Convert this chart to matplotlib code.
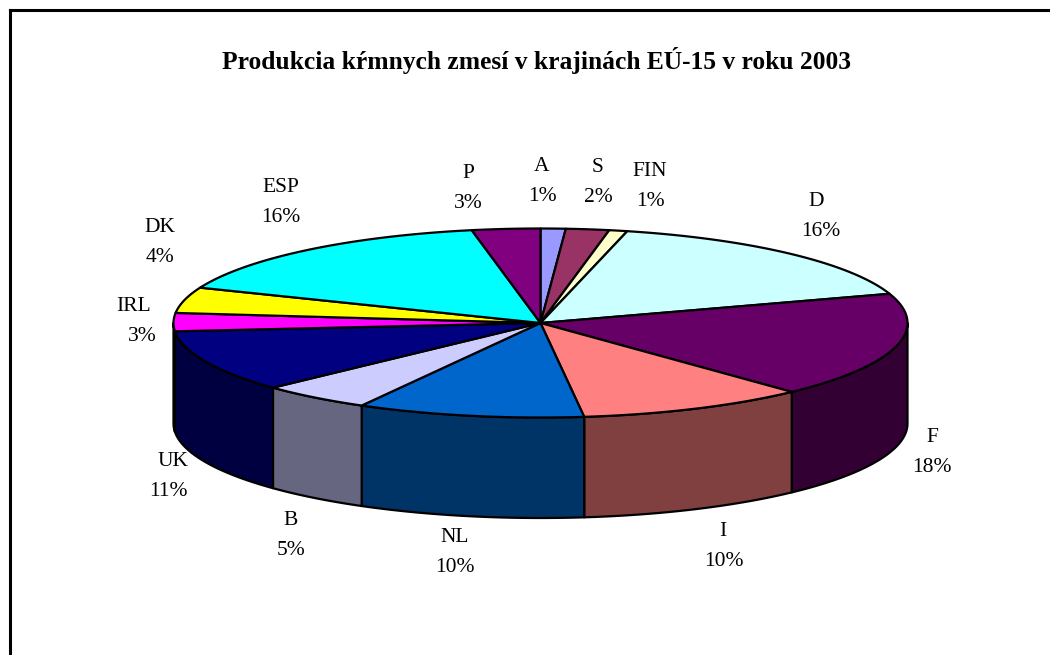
import numpy as np
import matplotlib
matplotlib.use("Agg")
import matplotlib.pyplot as plt
from matplotlib.patches import Polygon

title = "Produkcia kŕmnych zmesí v krajinách EÚ-15 v roku 2003"
labels = ["A", "S", "FIN", "D", "F", "I", "NL", "B", "UK", "IRL", "DK", "ESP", "P"]
values = [1.1, 1.9, 0.8, 16.2, 18.0, 10.1, 10.0, 4.9, 10.6, 3.1, 4.4, 15.9, 3.0]
pct_labels = ["1%", "2%", "1%", "16%", "18%", "10%", "10%", "5%", "11%", "3%", "4%", "16%", "3%"]
colors = ["#9999FF", "#993366", "#FFFFCC", "#CCFFFF", "#660066", "#FF8080", "#0066CC",
          "#CCCCFF", "#000080", "#FF00FF", "#FFFF00", "#00FFFF", "#800080"]
name_x = [542, 598, 650, 816, 932, 723, 455, 291, 173, 134, 160, 281, 468]
pct_x = [542, 598, 650, 821, 932, 724, 455, 291, 168, 142, 160, 281, 468]
label_y = [181.5, 182.5, 187, 216, 453, 547, 553, 535.5, 476.5, 321.5, 243, 202.5, 188.5]

W, H = 1050, 655
CX, CY, RX, RY, DEPTH = 540.5, 323.0, 367.0, 94.5, 100.5

fig = plt.figure(figsize=(W / 100, H / 100), dpi=100, facecolor="white")
ax = fig.add_axes([0, 0, 1, 1])
ax.set_xlim(0, W)
ax.set_ylim(H, 0)
ax.axis("off")

# frame: only top and left edges fall inside the picture
ax.plot([10, 10], [H + 5, 10], color="black", lw=2.2, solid_capstyle="projecting")
ax.plot([10, W + 5], [10, 10], color="black", lw=2.2, solid_capstyle="projecting")


def darken(c):
    r, g, b = matplotlib.colors.to_rgb(c)
    return (r * 0.5, g * 0.5, b * 0.5)


edges = np.cumsum([0] + values) / sum(values) * 2 * np.pi  # clockwise from top


def rim(a):
    return CX + RX * np.sin(a), CY - RY * np.cos(a)


# side walls
for i in range(len(values)):
    a0, a1 = edges[i], edges[i + 1]
    lo, hi = max(a0, np.pi / 2), min(a1, 3 * np.pi / 2)
    if hi <= lo:
        continue
    t = np.linspace(lo, hi, 80)
    x, y = rim(t)
    pts = np.vstack([np.column_stack([x, y]),
                     np.column_stack([x[::-1], y[::-1] + DEPTH])])
    ax.add_patch(Polygon(pts, closed=True, facecolor=darken(colors[i]),
                         edgecolor="black", lw=1.6, joinstyle="round", zorder=2))

# top surface
for i in range(len(values)):
    t = np.linspace(edges[i], edges[i + 1], 100)
    x, y = rim(t)
    pts = np.vstack([[CX, CY], np.column_stack([x, y])])
    ax.add_patch(Polygon(pts, closed=True, facecolor=colors[i], edgecolor="black",
                         lw=1.6, joinstyle="round", zorder=3))

font = "Liberation Serif"
for nx, px, ly, name, pct in zip(name_x, pct_x, label_y, labels, pct_labels):
    ax.text(nx, ly - 15, name, ha="center", va="center", family=font, fontsize=15.5, color="black")
    ax.text(px, ly + 15, pct, ha="center", va="center", family=font, fontsize=15.5, color="black")

ax.text(537, 61, title, ha="center", va="center", family=font, fontsize=18.4,
        fontweight="bold", color="black")

fig.savefig("out.png", dpi=100, facecolor="white")
